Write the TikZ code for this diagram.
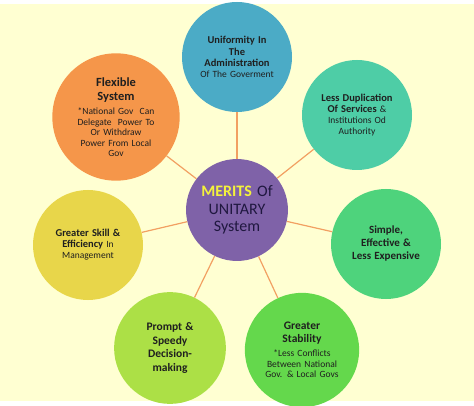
\documentclass[tikz,border=0pt]{standalone}
\usepackage{fontspec}
\setmainfont{Carlito}
\definecolor{bgyellow}{HTML}{FFFFD2}
\definecolor{linkorange}{HTML}{F2A062}
\definecolor{hubpurple}{HTML}{7F62A8}
\definecolor{hubtext}{HTML}{201840}
\definecolor{meritsyellow}{HTML}{F4F23C}
\definecolor{uniblue}{HTML}{4BABC6}
\definecolor{dupteal}{HTML}{4ECDA6}
\definecolor{flexorange}{HTML}{F5964A}
\definecolor{skillyellow}{HTML}{E8D64A}
\definecolor{simplegreen}{HTML}{4ED37C}
\definecolor{promptlime}{HTML}{ACE046}
\definecolor{stabgreen}{HTML}{64D84C}

\begin{document}
\begin{tikzpicture}[
    x=1pt, y=-1pt,
    merit/.style={circle, minimum size=110pt, inner sep=0pt, align=center,
      text width=100pt, text=black!88, font=\fontsize{9.5}{11}\selectfont},
    hub/.style={circle, minimum size=100pt, inner sep=0pt, align=center,
      text width=90pt, fill=hubpurple, text=hubtext,
      font=\fontsize{16}{17.5}\selectfont},
    link/.style={draw=linkorange, line width=1.2pt}
    ]

    % Background
    \useasboundingbox (0,0) rectangle (474,406);
    \fill[white] (0,0) rectangle (474,406);
    \fill[bgyellow] (0,4) rectangle (474,401);

    % Nodes
    \node[hub] (hub) at (237,210)
      {{\bfseries\color{meritsyellow}MERITS} Of\\UNITARY\\System};
    \node[merit, fill=uniblue] (uniform) at (237,57)
      {{\fontsize{10.5}{11.8}\selectfont\bfseries Uniformity In\\The\\Administration\par}
       Of The Goverment};
    \node[merit, fill=dupteal] (lessdup) at (357,115)
      {{\fontsize{10.5}{11.5}\selectfont\bfseries Less Duplication\\Of Services} \&\\Institutions Od\\Authority};
    \node[merit, fill=flexorange] (flexible) at (116,117)
      {{\fontsize{12.5}{14}\selectfont\bfseries Flexible\\System\par}\vspace{4pt}
       {\fontsize{9.5}{10.5}\selectfont *National Gov~~Can\\Delegate~~Power To\\Or Withdraw\\Power From Local\\Gov\par}};
    \node[merit, fill=skillyellow] (skill) at (88,245)
      {{\fontsize{10.5}{13}\selectfont\bfseries Greater Skill \&\\Efficiency} In\\Management};
    \node[merit, fill=simplegreen] (simple) at (386,244)
      {{\fontsize{11}{13}\selectfont\bfseries Simple,\\Effective \&\\Less Expensive\par}};
    \node[merit, fill=promptlime] (prompt) at (170,348)
      {{\fontsize{11.5}{13.5}\selectfont\bfseries Prompt \&\\Speedy\\Decision-\\making\par}};
    \node[merit, fill=stabgreen] (stability) at (302,350)
      {{\fontsize{11.5}{13}\selectfont\bfseries Greater\\Stability\par}\vspace{4pt}
       {\fontsize{9.5}{10.5}\selectfont *Less Conflicts\\Between National\\Gov. \& Local Govs\par}};

    % Edges
    \draw[link] (hub) -- (uniform);
    \draw[link] (hub) -- (lessdup);
    \draw[link] (hub) -- (simple);
    \draw[link] (hub) -- (stability);
    \draw[link] (hub) -- (prompt);
    \draw[link] (hub) -- (skill);
    \draw[link] (hub) -- (flexible);

\end{tikzpicture}
\end{document}
